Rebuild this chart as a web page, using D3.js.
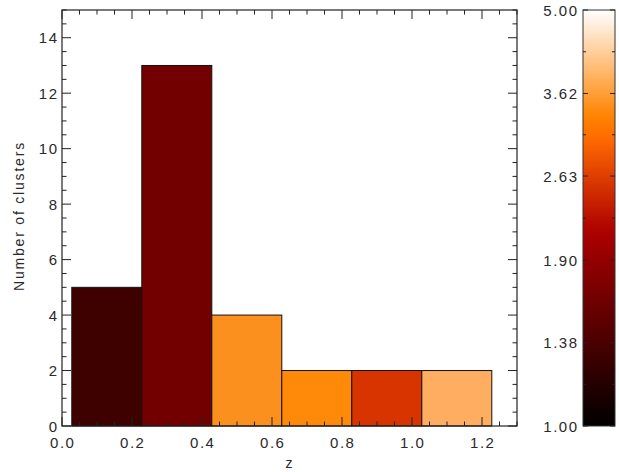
<!DOCTYPE html>
<html><head><meta charset="utf-8">
<script src="https://cdn.jsdelivr.net/npm/d3@7"></script>
<style>body{margin:0;background:#fff}svg{display:block}text{font-family:"Liberation Sans",Arial,sans-serif;fill:#2a2a2a}</style>
</head><body><svg id="c" width="619" height="472"></svg>
<script>
// ---- data ----
const binStart = [0.028, 0.228, 0.428, 0.628, 0.828, 1.028];
const binWidth = 0.2;
const counts = [5, 13, 4, 2, 2, 2];
const barColors = ["#3f0000", "#730000", "#fc901e", "#ff8a0a", "#d83400", "#ffad60"];
const xTicks = [0.0, 0.2, 0.4, 0.6, 0.8, 1.0, 1.2];
const yTicks = [0, 2, 4, 6, 8, 10, 12, 14];
const cbTicks = [1.00, 1.38, 1.90, 2.63, 3.62, 5.00];
const cbTickLabels = ["1.00", "1.38", "1.90", "2.63", "3.62", "5.00"];

const svg = d3.select("#c");
const L = 62, R = 517, T = 10, B = 426;
const x = d3.scaleLinear().domain([0, 1.3]).range([L, R]);
const y = d3.scaleLinear().domain([0, 15]).range([B, T]);
const LS = 1.5;

// bars
svg.append("g").selectAll("rect").data(counts).join("rect")
  .attr("x", (d, i) => x(binStart[i]))
  .attr("width", (d, i) => x(binStart[i] + binWidth) - x(binStart[i]))
  .attr("y", d => y(d))
  .attr("height", d => y(0) - y(d))
  .attr("fill", (d, i) => barColors[i])
  .attr("stroke", "#111").attr("stroke-width", 1);

// frame
svg.append("rect").attr("x", L).attr("y", T).attr("width", R - L).attr("height", B - T)
  .attr("fill", "none").attr("stroke", "#222").attr("stroke-width", 1.2);

const tickCol = "#222";
const gT = svg.append("g").attr("stroke", tickCol).attr("stroke-width", 1);
const xMinor = d3.range(0, 1.3001, 0.05);
xMinor.forEach(v => {
  const major = Math.abs(v / 0.2 - Math.round(v / 0.2)) < 1e-6;
  const len = major ? 9 : 4.5;
  gT.append("line").attr("x1", x(v)).attr("x2", x(v)).attr("y1", B).attr("y2", B - len);
  gT.append("line").attr("x1", x(v)).attr("x2", x(v)).attr("y1", T).attr("y2", T + len);
});
const yMinor = d3.range(0, 15.001, 0.5);
yMinor.forEach(v => {
  const major = Math.abs(v / 2 - Math.round(v / 2)) < 1e-6;
  const len = major ? 9 : 4.5;
  gT.append("line").attr("y1", y(v)).attr("y2", y(v)).attr("x1", L).attr("x2", L + len);
  gT.append("line").attr("y1", y(v)).attr("y2", y(v)).attr("x1", R).attr("x2", R - len);
});

// tick labels
svg.append("g").selectAll("text").data(xTicks).join("text")
  .attr("x", d => x(d) + LS / 2).attr("y", 448).attr("text-anchor", "middle")
  .attr("font-size", 15).attr("letter-spacing", LS).text(d => d.toFixed(1));
svg.append("g").selectAll("text").data(yTicks).join("text")
  .attr("x", 57 + LS).attr("y", d => y(d) + 5.5).attr("text-anchor", "end")
  .attr("font-size", 15).attr("letter-spacing", LS).text(d => d);

// axis titles
svg.append("text").attr("x", 289).attr("y", 468).attr("text-anchor", "middle")
  .attr("font-size", 14).text("z");
svg.append("text").attr("transform", `translate(24,216) rotate(-90)`)
  .attr("text-anchor", "middle").attr("font-size", 14).attr("letter-spacing", 1.8)
  .text("Number of clusters");

// colorbar
const cbL = 583, cbR = 615;
const cy = d3.scaleLog().domain([1, 5]).range([B, T]);
function ct3(t) {
  const i = t * 255;
  const r = Math.min(255, i * 255 / 176);
  const g = Math.max(0, Math.min(255, (i - 120) * 255 / 135));
  const b = Math.max(0, Math.min(255, (i - 190) * 255 / 65));
  return d3.rgb(r, g, b).formatHex();
}
const defs = svg.append("defs");
const grad = defs.append("linearGradient").attr("id", "cbg")
  .attr("x1", 0).attr("y1", 1).attr("x2", 0).attr("y2", 0);
d3.range(0, 1.0001, 0.02).forEach(t => grad.append("stop").attr("offset", t).attr("stop-color", ct3(t)));
svg.append("rect").attr("x", cbL).attr("y", T).attr("width", cbR - cbL).attr("height", B - T)
  .attr("fill", "url(#cbg)").attr("stroke", "#333").attr("stroke-width", 1);
const gC = svg.append("g").attr("stroke", tickCol).attr("stroke-width", 1);
cbTicks.forEach((v, k) => {
  gC.append("line").attr("x1", cbL).attr("x2", cbL + 5).attr("y1", cy(v)).attr("y2", cy(v));
  gC.append("line").attr("x1", cbR).attr("x2", cbR - 5).attr("y1", cy(v)).attr("y2", cy(v));
  if (k < cbTicks.length - 1) {
    const m = Math.sqrt(v * cbTicks[k + 1]);
    gC.append("line").attr("x1", cbL).attr("x2", cbL + 3).attr("y1", cy(m)).attr("y2", cy(m));
    gC.append("line").attr("x1", cbR).attr("x2", cbR - 3).attr("y1", cy(m)).attr("y2", cy(m));
  }
});
svg.append("g").selectAll("text").data(cbTicks).join("text")
  .attr("x", 577 + LS).attr("y", d => cy(d) + 5.5).attr("text-anchor", "end")
  .attr("font-size", 15).attr("letter-spacing", LS).text((d, i) => cbTickLabels[i]);
</script></body></html>
